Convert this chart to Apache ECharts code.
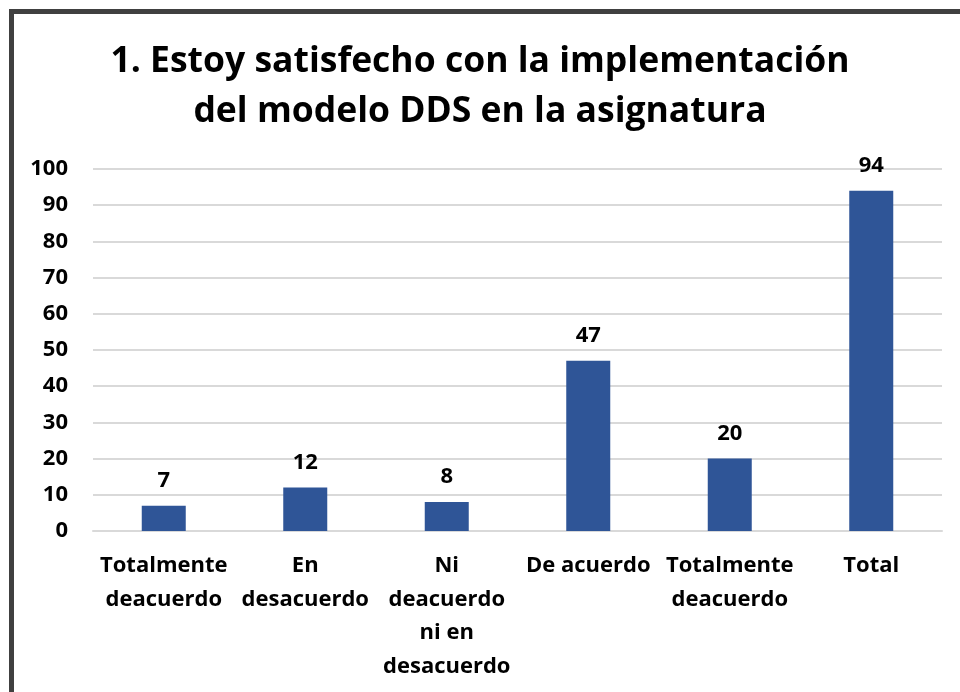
<!DOCTYPE html>
<html>
<head>
<meta charset="utf-8">
<script src="https://cdn.jsdelivr.net/npm/echarts@6/dist/echarts.min.js"></script>
<style>
  html, body { margin: 0; padding: 0; background: #fff; }
  #chart { width: 960px; height: 692px; }
</style>
</head>
<body>
<div id="chart"></div>
<script>
// datos del grafico
var categorias = [
  "Totalmente\ndeacuerdo",
  "En\ndesacuerdo",
  "Ni\ndeacuerdo\nni en\ndesacuerdo",
  "De acuerdo",
  "Totalmente\ndeacuerdo",
  "Total"
];
var valores = [7, 12, 8, 47, 20, 94];
var titulo = "1. Estoy satisfecho con la implementación\ndel modelo DDS en la asignatura";

var fuente = "'Open Sans', sans-serif";
var chart = echarts.init(document.getElementById("chart"));

var option = {
  animation: false,
  backgroundColor: "#fff",
  title: {
    text: titulo,
    left: "center",
    top: 37,
    padding: [0, 0, 0, 20],
    textStyle: {
      fontFamily: fuente,
      fontWeight: "bold",
      fontSize: 35.5,
      lineHeight: 50,
      color: "#000"
    }
  },
  graphic: [
    {
      type: "rect",
      shape: { x: 11.5, y: 11.5, width: 1000, height: 1000 },
      style: { fill: "none", stroke: "#404040", lineWidth: 5 },
      silent: true
    }
  ],
  grid: {
    left: 93,
    right: 18,
    top: 169,
    bottom: 161
  },
  xAxis: {
    type: "category",
    data: categorias,
    axisLine: { show: true, lineStyle: { color: "#d9d9d9", width: 2 } },
    axisTick: { show: false },
    axisLabel: {
      interval: 0,
      margin: 18,
      fontFamily: fuente,
      fontWeight: "bold",
      fontSize: 22,
      lineHeight: 33.5,
      color: "#000"
    }
  },
  yAxis: {
    type: "value",
    min: 0,
    max: 100,
    interval: 10,
    axisLine: { show: false },
    axisTick: { show: false },
    splitLine: { lineStyle: { color: "#d9d9d9", width: 2 } },
    axisLabel: {
      margin: 25,
      fontFamily: fuente,
      fontWeight: "bold",
      fontSize: 22,
      color: "#000"
    }
  },
  series: [
    {
      type: "bar",
      data: valores,
      barWidth: 44,
      itemStyle: { color: "#2F5597" },
      label: {
        show: true,
        position: "top",
        distance: 14,
        fontFamily: fuente,
        fontWeight: "bold",
        fontSize: 22,
        color: "#000"
      }
    }
  ]
};

chart.setOption(option);
</script>
</body>
</html>
